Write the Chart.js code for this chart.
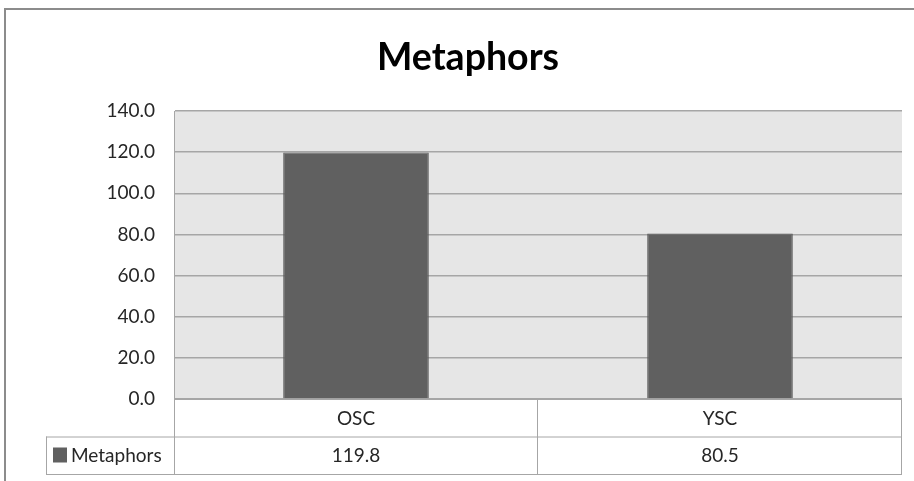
<!DOCTYPE html>
<html>
<head>
<meta charset="utf-8">
<script src="https://cdn.jsdelivr.net/npm/chart.js@4"></script>
<style>
  body { margin: 0; background: #fff; }
  #wrap { width: 914px; height: 481px; }
</style>
</head>
<body>
<div id="wrap"><canvas id="metaChart" width="914" height="481"></canvas></div>
<script>
const categories = ["OSC", "YSC"];
const seriesName = "Metaphors";
const seriesValues = [119.8, 80.5];
const yTicks = [0, 20, 40, 60, 80, 100, 120, 140];

const barColor = "#606060";
const lineColor = "#a6a6a6";
const textColor = "#262626";
const fontFamily = "Lato, 'Open Sans', sans-serif";

// gray plot background + outer frame
const backgroundPlugin = {
  id: "plotBackground",
  beforeDraw: (chart) => {
    const ctx = chart.ctx;
    const area = chart.chartArea;
    ctx.save();
    ctx.fillStyle = "#fff";
    ctx.fillRect(0, 0, chart.width, chart.height);
    ctx.fillStyle = "#e6e6e6";
    ctx.fillRect(area.left, area.top, area.right - area.left, area.bottom - area.top);
    ctx.strokeStyle = "#8c8c8c";
    ctx.lineWidth = 2;
    ctx.beginPath();
    ctx.moveTo(5, chart.height);
    ctx.lineTo(5, 9);
    ctx.lineTo(chart.width, 9);
    ctx.stroke();
    ctx.restore();
  },
};

// data table under the plot
const tablePlugin = {
  id: "dataTable",
  afterDraw: (chart) => {
    const ctx = chart.ctx;
    const area = chart.chartArea;
    const xScale = chart.scales.x;
    const rowH = 37.5;
    const legendLeft = 46;
    const top = area.bottom;
    const mid = top + rowH;
    const bottom = mid + rowH;
    const catW = (area.right - area.left) / categories.length;

    ctx.save();
    ctx.strokeStyle = lineColor;
    ctx.lineWidth = 1;
    ctx.beginPath();
    ctx.moveTo(area.left, top + 0.5);
    ctx.lineTo(area.right, top + 0.5);
    ctx.moveTo(legendLeft, mid + 0.5);
    ctx.lineTo(area.right, mid + 0.5);
    ctx.moveTo(legendLeft, bottom + 0.5);
    ctx.lineTo(area.right, bottom + 0.5);
    ctx.moveTo(legendLeft + 0.5, mid);
    ctx.lineTo(legendLeft + 0.5, bottom);
    ctx.moveTo(area.left + 0.5, top);
    ctx.lineTo(area.left + 0.5, bottom);
    categories.forEach((c, i) => {
      const right = Math.round(xScale.getPixelForValue(i) + catW / 2) - 0.5;
      ctx.moveTo(right, top);
      ctx.lineTo(right, bottom);
    });
    ctx.stroke();

    ctx.fillStyle = textColor;
    ctx.font = "19px " + fontFamily;
    ctx.textAlign = "center";
    ctx.textBaseline = "middle";
    categories.forEach((c, i) => {
      const cx = xScale.getPixelForValue(i);
      ctx.fillText(c, cx, (top + mid) / 2 + 1);
      ctx.fillText(seriesValues[i].toFixed(1), cx, (mid + bottom) / 2 + 1);
    });

    // legend key
    ctx.fillStyle = barColor;
    ctx.fillRect(53, mid + 11, 14, 15);
    ctx.fillStyle = textColor;
    ctx.textAlign = "left";
    ctx.fillText(seriesName, 71, (mid + bottom) / 2 + 1);
    ctx.restore();
  },
};

const chart = new Chart(document.getElementById("metaChart"), {
  type: "bar",
  data: {
    labels: categories,
    datasets: [
      {
        label: seriesName,
        data: seriesValues,
        backgroundColor: barColor,
        borderColor: "#585858",
        borderWidth: 1,
        categoryPercentage: 1,
        barPercentage: 0.4,
      },
    ],
  },
  options: {
    responsive: false,
    animation: false,
    events: [],
    // left padding shifts the title centre to match the original
    layout: { padding: { left: 34, right: 12, top: 0, bottom: 82 } },
    plugins: {
      legend: { display: false },
      tooltip: { enabled: false },
      title: {
        display: true,
        text: "Metaphors",
        color: "#000",
        font: { family: fontFamily, size: 37.5, weight: "bold" },
        padding: { top: 35, bottom: 31 },
      },
    },
    scales: {
      x: { display: false },
      y: {
        min: yTicks[0],
        max: yTicks[yTicks.length - 1],
        afterBuildTicks: (scale) => {
          scale.ticks = yTicks.map((v) => ({ value: v }));
        },
        afterFit: (scale) => {
          scale.width = 140;
        },
        ticks: {
          padding: 19,
          color: textColor,
          font: { family: fontFamily, size: 19 },
          callback: (v) => Number(v).toFixed(1),
        },
        grid: { color: lineColor, lineWidth: 1.5, drawTicks: false },
        border: { display: true, color: lineColor, width: 1 },
      },
    },
  },
  plugins: [backgroundPlugin, tablePlugin],
});
</script>
</body>
</html>
